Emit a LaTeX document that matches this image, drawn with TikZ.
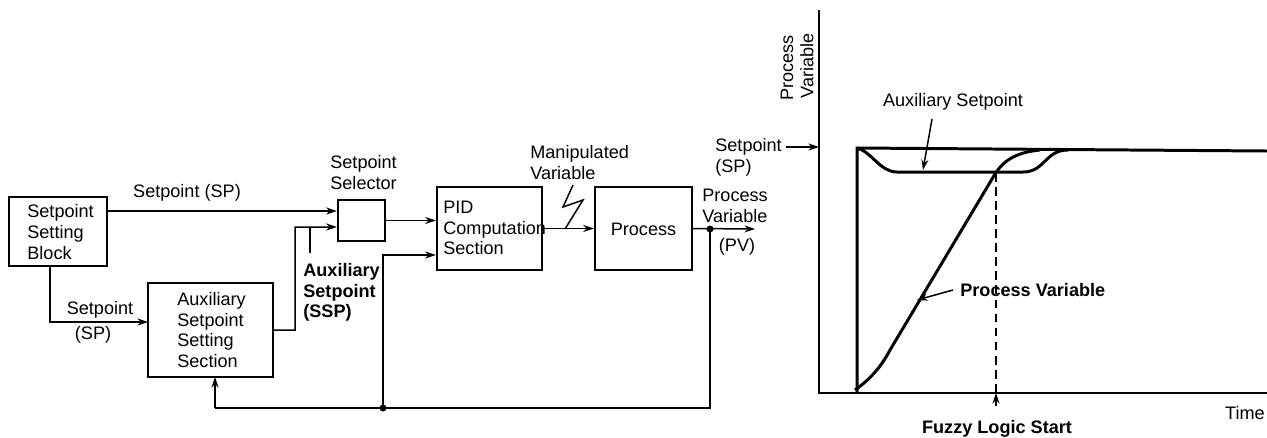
\documentclass[tikz,border=0pt]{standalone}
\usepackage{fontspec}
\setmainfont{Liberation Sans}
\usetikzlibrary{calc,arrows.meta}
\tikzset{
  blk/.style={draw, line width=1.4pt, rectangle, inner sep=0pt},
  conn/.style={line width=0.85pt},
  arr/.style={conn, -{Stealth[length=6pt,width=4pt]}},
  lbl/.style={font=\fontsize{10.3}{11.8}\selectfont, inner sep=0pt, align=left},
  blbl/.style={lbl, font=\fontsize{10.3}{11.8}\selectfont\bfseries},
  curve/.style={line width=1.7pt},
  dot/.style={circle, fill, inner sep=0pt, minimum size=4pt}
}
\begin{document}
\begin{tikzpicture}[x=0.02cm,y=-0.02cm]
\useasboundingbox (0,0) rectangle (1267,437);
\clip (0,0) rectangle (1267,437);
% ---- block diagram ----
\node[blk, minimum width=1.96cm, minimum height=1.38cm] (ssb) at (58,231.5) {};
\node[lbl, anchor=west] (ssbt) at (27,232) {Setpoint\\Setting\\Block};
\node[blk, minimum width=0.94cm, minimum height=0.82cm] (sel) at (361.5,220.5) {};
\node[lbl, anchor=south west] (selt) at (330,190) {Setpoint\\Selector};
\node[blk, minimum width=2.5cm, minimum height=1.88cm] (aux) at (210.5,330) {};
\node[lbl, anchor=west] (auxt) at (177,330) {Auxiliary\\Setpoint\\Setting\\Section};
\node[blk, minimum width=2.1cm, minimum height=1.66cm] (pid) at (489.5,228.5) {};
\node[lbl, anchor=west] (pidt) at (443,228) {PID\\Computation\\Section};
\node[blk, minimum width=1.94cm, minimum height=1.66cm] (proc) at (643.5,228.5) {};
\node[lbl] (proct) at (643.5,229) {Process};

% labels
\node[lbl, anchor=center] (splbl) at (187,193) {Setpoint (SP)};
\node[lbl, anchor=center] (sp2a) at (100,310) {Setpoint};
\node[lbl, anchor=center] (sp2b) at (93,335) {(SP)};
\node[blbl, anchor=north west] (sspl) at (303,263) {Auxiliary\\Setpoint\\(SSP)};
\node[lbl, anchor=south west] (mvl) at (530,180) {Manipulated\\Variable};
\node[lbl, anchor=south west] (pvl) at (702,223) {Process\\Variable};
\node[lbl, anchor=center] (pvl2) at (737,247) {(PV)};

% coordinates
\coordinate (sp1) at ($(sel.west)+(0,-9.5)$);
\coordinate (sp2) at ($(sel.west)+(0,6.5)$);
\coordinate (sspc) at (295,227);
\coordinate (tick) at (310,227);
\coordinate (tickend) at (310,253);
\coordinate (ssbb) at (50,266);
\coordinate (auxw) at (148,322);
\coordinate (pvj) at (710,229);
\coordinate (pvend) at (755,229);
\coordinate (fbj) at (383,408);
\coordinate (fbr) at (710,408);
\coordinate (auxb) at (215,377);
\coordinate (auxbl) at (215,408);
\coordinate (pidw2) at ($(pid.west)+(0,26.5)$);

% connectors
\draw[arr] (ssb.east |- sp1) -- (sp1);
\draw[arr] (aux.east) -| (sspc) -- (sp2);
\draw[conn] (tick) -- (tickend);
\draw[arr] (ssbb) |- (auxw);
\draw[arr] (sel.east) -- (sel.east -| pid.west);
\draw[arr] (pid.east) -- (proc.west);
\draw[conn] (573,185) -- (563,207) -- (583,200) -- (565,229);
\draw[arr] (proc.east) -- (pvend);
\draw[conn] (pvj) -- (fbr) -- (auxbl);
\draw[arr] (auxbl) -- (auxb);
\draw[arr] (fbj) |- (pidw2);
\node[dot] at (pvj) {};
\node[dot] at (fbj) {};

% ---- graph ----
\coordinate (origin) at (819,393);
\coordinate (ytop) at (819,10);
\coordinate (xend) at (1267,393);
\draw[line width=1.1pt] (ytop) -- (origin) -- (xend);
\node[lbl, rotate=90, anchor=center] (yl1) at (787,68) {Process};
\node[lbl, rotate=90, anchor=center] (yl2) at (807,66) {Variable};
\node[lbl, anchor=west] (spg1) at (715,147) {Setpoint};
\node[lbl, anchor=west] (spg2) at (715,168) {(SP)};
\coordinate (spa) at (819,147);
\draw[arr] ([xshift=2pt]spg1.east) -- (spa);

\draw[curve] (857,393) -- (857,148) -- (1267,151);
\draw[curve] (857,148) .. controls (872,152) and (880,172) .. (897,172) -- (1023,172) .. controls (1045,172) and (1045,150) .. (1068,150);
\draw[curve] (855,390) .. controls (872,378) and (882,365) .. (890,350) -- (995,174) .. controls (1005,158) and (1020,152) .. (1040,150);

\coordinate (fz) at (996,173);
\coordinate (fzb) at (996,393);
\coordinate (fzs) at (996,406);
\draw[conn, dash pattern=on 5pt off 3pt] (fz) -- (fzb);
\draw[arr] (fzs) -- (fzb);
\node[blbl, anchor=center] (fzl) at (997,429) {Fuzzy Logic Start};

\node[lbl, anchor=center] (asl) at (953,102) {Auxiliary Setpoint};
\coordinate (asa) at (923,170);
\draw[arr] (932,119) -- (asa);
\node[blbl, anchor=west] (pvgl) at (960,290) {Process Variable};
\coordinate (pva) at (917,300);
\draw[arr] ([xshift=-4pt]pvgl.west) -- (pva);
\node[lbl, anchor=east] (tl) at (1265,413) {Time};
\end{tikzpicture}
\end{document}
